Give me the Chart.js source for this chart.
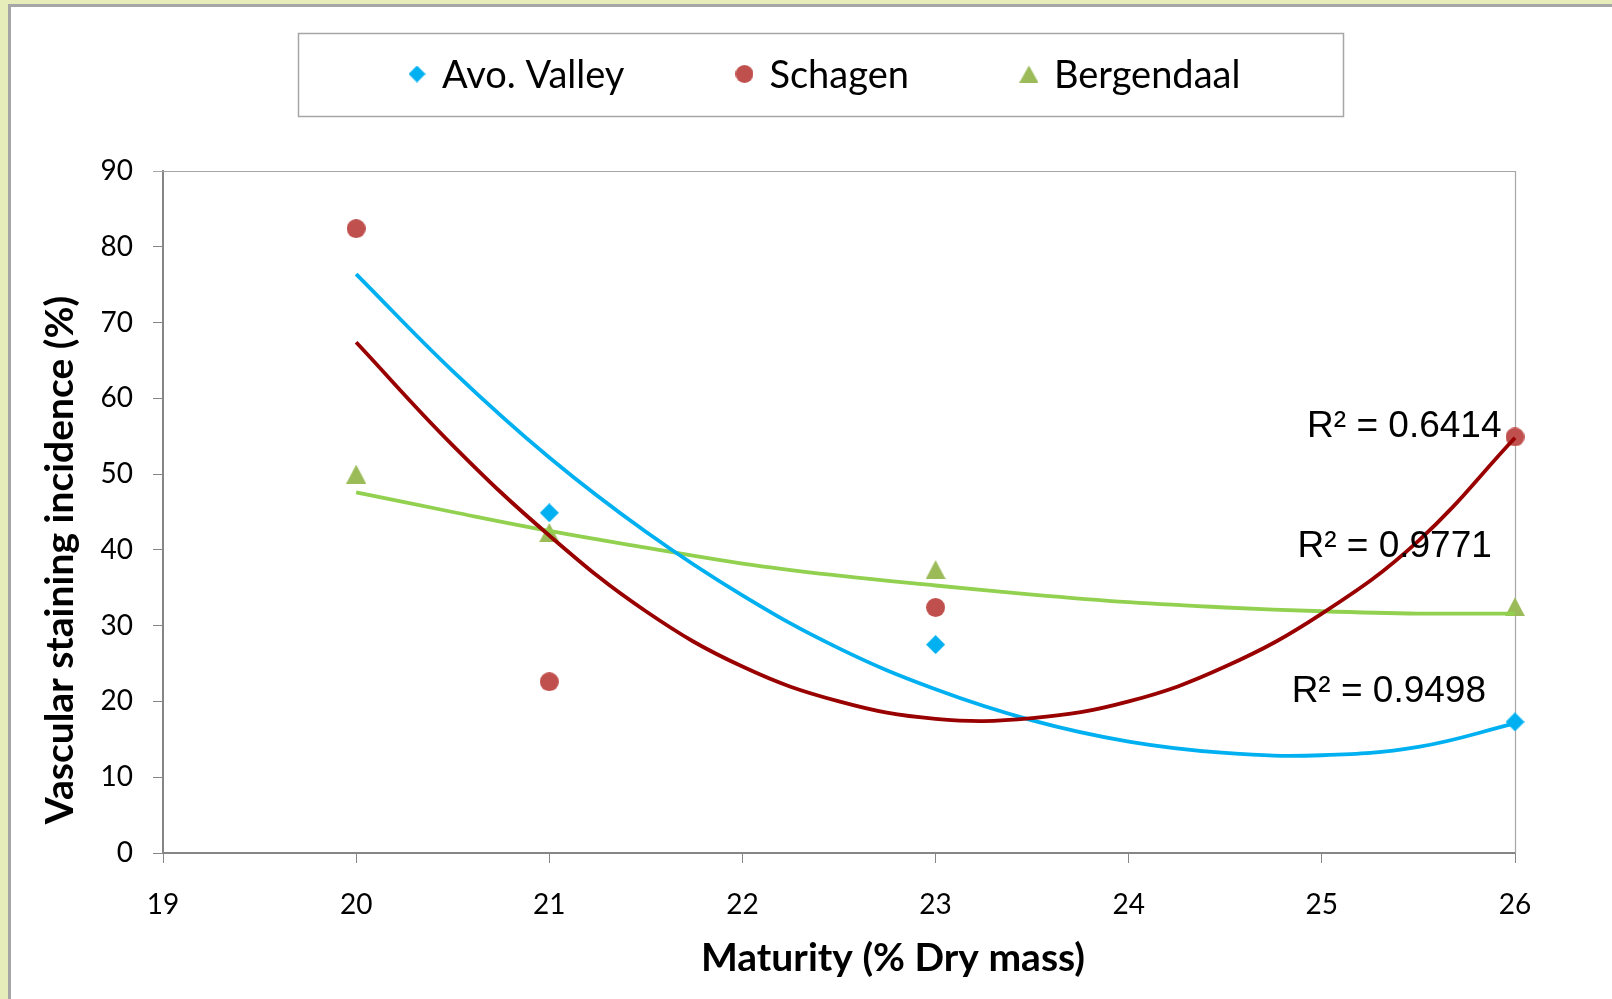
<!DOCTYPE html>
<html>
<head>
<meta charset="utf-8">
<script src="https://cdn.jsdelivr.net/npm/chart.js@4.4.1/dist/chart.umd.min.js"></script>
<style>
html,body{margin:0;padding:0;background:#fff;overflow:hidden}
canvas{display:block}
</style>
</head>
<body>
<canvas id="c" width="1612" height="999"></canvas>
<script>
// ---------- data ----------
const maturity   = [20, 21, 23, 26];
const avoValley  = [82.4, 44.9, 27.5, 17.3];
const schagen    = [82.4, 22.6, 32.4, 54.9];
const bergendaal = [50.0, 42.3, 37.4, 32.5];

// polynomial trend lines as drawn in the picture (read every 0.5 %)
const trendX       = [20, 20.5, 21, 21.5, 22, 22.5, 23, 23.5, 24, 24.5, 25, 25.5, 26];
const avoTrend     = [76.4, 63.6, 52.2, 42.4, 34.0, 27.0, 21.6, 17.5, 14.7, 13.2, 12.9, 14.0, 17.1];
const schagenTrend = [67.4, 53.8, 41.9, 31.9, 24.6, 20.0, 17.7, 17.8, 20.0, 24.6, 31.6, 41.2, 54.8];
const bergTrend    = [47.6, 45.0, 42.5, 40.3, 38.2, 36.6, 35.3, 34.1, 33.1, 32.4, 31.9, 31.6, 31.6];

const seriesNames = ['Avo. Valley', 'Schagen', 'Bergendaal'];
const r2Texts     = ['R\u00B2 = 0.6414', 'R\u00B2 = 0.9771', 'R\u00B2 = 0.9498'];
const xTickValues = [19, 20, 21, 22, 23, 24, 25, 26];
const yTickValues = [0, 10, 20, 30, 40, 50, 60, 70, 80, 90];
const xTitle = 'Maturity (% Dry mass)';
const yTitle = 'Vascular staining incidence (%)';

// ---------- styling / layout ----------
const COLORS = {
  avoMarker: '#00B0F0', avoLine: '#00B0F0',
  schMarker: '#C0504D', schLine: '#990000',
  bergMarker: '#9BBB59', bergLine: '#92D050',
  axis: '#868686', frame: '#a6a6a6'
};
// R² label anchors in data space (right edge x, baseline y)
const r2Anchors = [[25.93, 54.9], [25.88, 39.0], [25.85, 19.9]];

function makeMarker(shape, color, w, h) {
  const c = document.createElement('canvas');
  c.width = w; c.height = h;
  const g = c.getContext('2d');
  g.fillStyle = color;
  g.beginPath();
  if (shape === 'diamond') {
    g.moveTo(w / 2, 0); g.lineTo(w, h / 2); g.lineTo(w / 2, h); g.lineTo(0, h / 2);
  } else if (shape === 'circle') {
    g.arc(w / 2, h / 2, w / 2, 0, Math.PI * 2);
  } else {
    g.moveTo(w / 2, 0); g.lineTo(w, h); g.lineTo(0, h);
  }
  g.closePath();
  g.fill();
  return c;
}

const markers = [
  makeMarker('diamond', COLORS.avoMarker, 19, 19),
  makeMarker('circle', COLORS.schMarker, 19, 19),
  makeMarker('triangle', COLORS.bergMarker, 20, 19)
];
const legendMarkers = [
  makeMarker('diamond', COLORS.avoMarker, 17, 17),
  makeMarker('circle', COLORS.schMarker, 18, 18),
  makeMarker('triangle', COLORS.bergMarker, 19, 17)
];

const pts = (xs, ys) => xs.map((x, i) => ({x: x, y: ys[i]}));

function trendDataset(label, ys, color, order) {
  return {
    label: label, data: pts(trendX, ys), showLine: true, borderColor: color,
    backgroundColor: color, borderWidth: 3.8, pointRadius: 0, pointHoverRadius: 0,
    tension: 0.4, order: order, clip: false, isTrend: true
  };
}
function seriesDataset(idx, ys, order) {
  return {
    label: seriesNames[idx], data: pts(maturity, ys), showLine: false,
    pointStyle: markers[idx], pointRadius: 10, pointHoverRadius: 10,
    order: order, clip: false, legendIndex: idx
  };
}

const decor = {
  id: 'decor',
  beforeDraw(chart) {
    const ctx = chart.ctx;
    ctx.save();
    ctx.fillStyle = '#e6edbb';
    ctx.fillRect(0, 0, chart.width, chart.height);
    ctx.fillStyle = '#ffffff';
    ctx.fillRect(11, 7, chart.width - 11, chart.height - 7);
    ctx.fillStyle = COLORS.frame;
    ctx.fillRect(8, 4, chart.width - 8, 3);
    ctx.fillRect(8, 4, 3, chart.height - 4);
    ctx.restore();
  },
  beforeDatasetsDraw(chart) {
    const ctx = chart.ctx, a = chart.chartArea;
    ctx.save();
    ctx.strokeStyle = COLORS.frame;
    ctx.lineWidth = 1.2;
    ctx.beginPath();
    ctx.moveTo(a.left - 10, Math.round(a.top) + 0.5);
    ctx.lineTo(a.right, Math.round(a.top) + 0.5);
    ctx.moveTo(Math.round(a.right) + 0.5, a.top);
    ctx.lineTo(Math.round(a.right) + 0.5, a.bottom);
    ctx.stroke();
    ctx.restore();
  },
  afterDraw(chart) {
    const ctx = chart.ctx;
    const xs = chart.scales.x, ys = chart.scales.y;
    ctx.save();
    // legend frame
    ctx.strokeStyle = COLORS.frame;
    ctx.lineWidth = 1.5;
    ctx.strokeRect(298.5, 33.5, 1045, 83);
    // legend items
    ctx.font = '38px Lato';
    ctx.fillStyle = '#000';
    ctx.textBaseline = 'alphabetic';
    ctx.textAlign = 'left';
    let lx = 411;
    chart.data.datasets.forEach(ds => {
      if (ds.isTrend) return;
      const m = legendMarkers[ds.legendIndex];
      ctx.drawImage(m, lx + 6 - m.width / 2, 74 - m.height / 2);
      ctx.fillText(ds.label, lx + 31, 88);
      lx += 31 + ctx.measureText(ds.label).width + 114;
    });
    // axis titles
    ctx.font = 'bold 39px Lato';
    ctx.textAlign = 'center';
    ctx.fillText(xTitle, 893, 971);
    ctx.save();
    ctx.translate(73, 560);
    ctx.rotate(-Math.PI / 2);
    ctx.fillText(yTitle, 0, 0);
    ctx.restore();
    // R² labels
    ctx.font = '37px "Liberation Sans"';
    ctx.textAlign = 'right';
    r2Texts.forEach((t, i) => {
      ctx.fillText(t, xs.getPixelForValue(r2Anchors[i][0]), ys.getPixelForValue(r2Anchors[i][1]));
    });
    ctx.restore();
  }
};

function build() {
  new Chart(document.getElementById('c'), {
    type: 'scatter',
    data: {
      datasets: [
        trendDataset('Avo. Valley trend', avoTrend, COLORS.avoLine, 1),
        trendDataset('Schagen trend', schagenTrend, COLORS.schLine, 0),
        trendDataset('Bergendaal trend', bergTrend, COLORS.bergLine, 2),
        seriesDataset(0, avoValley, 5),
        seriesDataset(1, schagen, 3),
        seriesDataset(2, bergendaal, 4)
      ]
    },
    options: {
      responsive: false,
      animation: false,
      events: [],
      devicePixelRatio: 1,
      layout: {padding: {top: 171, right: 97, left: 0, bottom: 0}},
      plugins: {legend: {display: false}, tooltip: {enabled: false}},
      scales: {
        x: {
          type: 'linear', min: 19, max: 26,
          afterBuildTicks: s => { s.ticks = xTickValues.map(v => ({value: v})); },
          afterFit: s => { s.height = 146; },
          ticks: {font: {family: 'Lato', size: 28}, color: '#000', padding: 25},
          grid: {drawOnChartArea: false, drawTicks: true, tickLength: 10, color: COLORS.axis, lineWidth: 1},
          border: {color: COLORS.axis, width: 2}
        },
        y: {
          type: 'linear', min: 0, max: 90,
          afterBuildTicks: s => { s.ticks = yTickValues.map(v => ({value: v})); },
          afterFit: s => { s.width = 163; },
          ticks: {font: {family: 'Lato', size: 28}, color: '#000', padding: 20},
          grid: {drawOnChartArea: false, drawTicks: true, tickLength: 10, color: COLORS.axis, lineWidth: 1},
          border: {color: COLORS.axis, width: 2}
        }
      }
    },
    plugins: [decor]
  });
}

const fontLoads = ['28px Lato', 'bold 39px Lato', '38px Lato', '37px "Liberation Sans"']
  .map(f => document.fonts.load(f).catch(() => null));
Promise.race([Promise.all(fontLoads), new Promise(r => setTimeout(r, 1500))]).then(build);
</script>
</body>
</html>
